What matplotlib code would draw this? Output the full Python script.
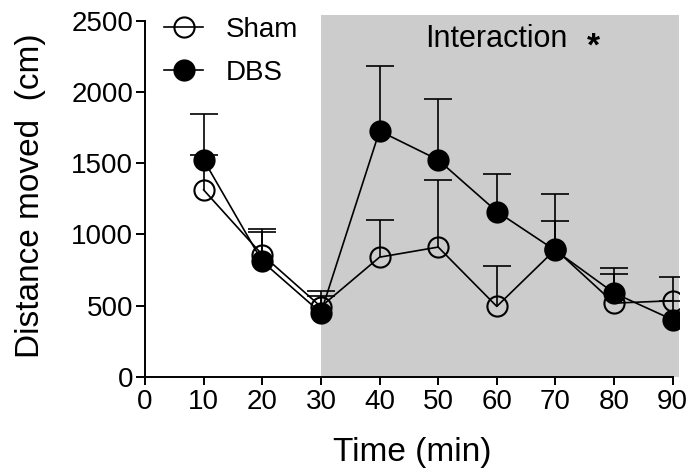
import matplotlib
matplotlib.use("Agg")
import matplotlib.pyplot as plt
from matplotlib.lines import Line2D

plt.rcParams['font.family'] = ['Liberation Sans', 'DejaVu Sans']

time_min = [10, 20, 30, 40, 50, 60, 70, 80, 90]
sham_mean = [1313, 857, 492, 840, 911, 494, 895, 517, 534]
sham_sem = [247, 178, 108, 262, 472, 281, 200, 206, 166]
dbs_mean = [1524, 810, 449, 1727, 1524, 1161, 887, 588, 400]
dbs_sem = [321, 210, 121, 459, 426, 265, 398, 175, 130]

x_ticks = [0, 10, 20, 30, 40, 50, 60, 70, 80, 90]
y_ticks = [0, 500, 1000, 1500, 2000, 2500]
interaction_window = (30, 91)

fig = plt.figure(figsize=(6.93, 4.72), dpi=100)
ax = fig.add_axes([0.2092, 0.2019, 0.7700, 0.7657])
ax.set_xlim(0, 91)
ax.set_ylim(0, 2540)

# shaded interaction period
ax.axvspan(interaction_window[0], interaction_window[1], ymin=0, ymax=1,
           color='#cccccc', lw=0, zorder=0)

lw = 1.2
ms = 14.5
for mean, sem, filled, z in [(sham_mean, sham_sem, False, 3), (dbs_mean, dbs_sem, True, 4)]:
    # upper-only SEM bars with a cap at the top end
    _, caps, _ = ax.errorbar(time_min, mean, yerr=[[0] * len(sem), sem], fmt='none',
                             ecolor='black', elinewidth=lw, capsize=10, capthick=lw,
                             zorder=z - 1)
    caps[0].set_visible(False)
    ax.plot(time_min, mean, color='black', lw=lw, marker='o', markersize=ms,
            markerfacecolor='black' if filled else 'none',
            markeredgecolor='black', markeredgewidth=1.5, zorder=z)

for side in ('top', 'right'):
    ax.spines[side].set_visible(False)
for side in ('left', 'bottom'):
    ax.spines[side].set_linewidth(1.4)
ax.spines['bottom'].set_bounds(0, 90)
ax.spines['left'].set_bounds(0, 2500)

ax.set_xticks(x_ticks)
ax.set_yticks(y_ticks)
ax.tick_params(direction='out', width=1.4, labelsize=20)
ax.tick_params(axis='x', length=6, pad=3)
ax.tick_params(axis='y', length=6.5, pad=2)

ax.set_xlabel('Time (min)', fontsize=24, labelpad=16)
ax.set_ylabel('Distance moved  (cm)', fontsize=24, labelpad=18)

ax.text(47.8, 2370, 'Interaction', fontsize=22, ha='left', va='center')
ax.text(76.5, 2320, '*', fontsize=24, fontweight='bold', ha='center', va='center')

handles = [
    Line2D([], [], color='black', lw=lw, marker='o', markersize=ms,
           markerfacecolor='none', markeredgecolor='black', markeredgewidth=1.5),
    Line2D([], [], color='black', lw=lw, marker='o', markersize=ms,
           markerfacecolor='black', markeredgecolor='black', markeredgewidth=1.5),
]
ax.legend(handles, ['Sham', 'DBS'], loc='upper left', bbox_to_anchor=(0.036, 0.996),
          frameon=False, fontsize=20, handlelength=1.4, handletextpad=0.8,
          labelspacing=0.62, borderaxespad=0, borderpad=0)

fig.savefig('out.png', dpi=100)
